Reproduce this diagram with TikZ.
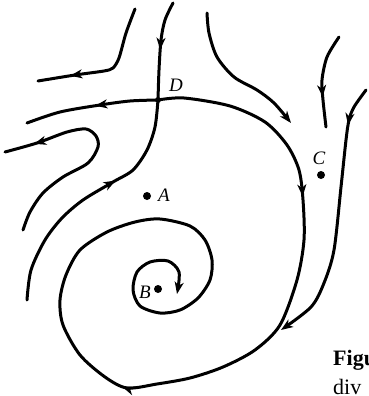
\documentclass[tikz,border=0pt]{standalone}
\usepackage{fontspec}
\setmainfont{Liberation Serif}
\usetikzlibrary{arrows.meta,decorations.markings}
\tikzset{
  flow/.style={line width=3pt, line cap=round, line join=round},
  endtip/.style={-{Stealth[length=12pt,width=9pt,inset=3.5pt]}},
  midarrow/.style={postaction={decorate}, decoration={markings,
      mark=at position #1 with {\arrow{Stealth[length=12pt,width=9pt,inset=3.5pt]}}}},
  dot/.style={circle, fill=black, inner sep=0pt, minimum size=8pt},
  lab/.style={font=\fontsize{19}{19}\selectfont\itshape, inner sep=0pt},
  captext/.style={font=\fontsize{22}{22}\selectfont, inner sep=0pt, anchor=base west}
}
\begin{document}
\begin{tikzpicture}[x=1pt,y=-1pt]
\useasboundingbox (0,0) rectangle (368,396);
\clip (0,0) rectangle (368,396);
\coordinate (D) at (158,100);

% top-left L curve
\draw[flow, midarrow=107pt] plot[smooth, tension=0.45] coordinates {(135,9) (126,33) (119,58) (113,68) (104,71) (75,75) (38,81)};
% top into D
\draw[flow, midarrow=49pt] plot[smooth] coordinates {(173,3) (165,20) (161,40) (159,70) (D)};
% bottom into D
\draw[flow, midarrow=157pt] plot[smooth] coordinates {(27,300) (31,270) (45,240) (62,218) (83,200) (113,182) (133,170) (147,150) (155,127) (D)};
% D to left
\draw[flow, midarrow=63pt] plot[smooth] coordinates {(D) (130,101) (100,105) (60,112) (27,123)};
% spiral from D
\draw[flow, endtip, postaction={decorate}, decoration={markings,
   mark=at position 198pt with {\arrow{Stealth[length=12pt,width=9pt,inset=3.5pt]}},
   mark=at position 506pt with {\arrow{Stealth[length=12pt,width=9pt,inset=3.5pt]}}}]
  plot[smooth] coordinates {(D) (184,98) (230,106) (265,122) (287,145) (299,170) (303,200) (304,240) (297,280) (280,325) (255,350) (223,367) (190,378) (157,384) (127,388) (105,377) (80,355) (63,325) (60,300) (66,275) (80,250) (107,232) (135,222) (160,219) (190,226) (205,240) (212,260) (210,280) (198,298) (180,310) (160,313) (140,306) (133,290) (137,272) (150,262) (168,261) (179,272) (177,294)};
% fold curve
\draw[flow, midarrow=194pt] plot[smooth] coordinates {(23,230) (30,212) (43,193) (63,177) (88,163) (98,147) (96,136) (86,129) (67,132) (37,143) (5,152)};
% top right curves
\draw[flow, endtip] plot[smooth] coordinates {(207,13) (209,33) (217,57) (234,77) (257,90) (274,103) (291,123)};
\draw[flow, midarrow=64pt] plot[smooth] coordinates {(339,37) (327,57) (322,80) (323,100) (326,127)};
\draw[flow, endtip, midarrow=40pt] plot[smooth] coordinates {(366,90) (354,107) (349,120) (346,140) (341,187) (334,250) (324,283) (311,307) (281,330)};

% points
\node[dot, minimum size=6pt] (Dp) at (D) {};
\node[dot] (Ap) at (147,196) {};
\node[dot] (Bp) at (158,289) {};
\node[dot] (Cp) at (321,175) {};
\node[lab] (lA) at (164,195) {A};
\node[lab] (lB) at (145,292) {B};
\node[lab] (lC) at (319,158) {C};
\node[lab] (lD) at (176,85) {D};

% caption fragments
\node[captext, font=\fontsize{22}{22}\selectfont\bfseries] (f1) at (333,365) {Figu};
\node[captext] (f2) at (333,394) {div};
\end{tikzpicture}
\end{document}
